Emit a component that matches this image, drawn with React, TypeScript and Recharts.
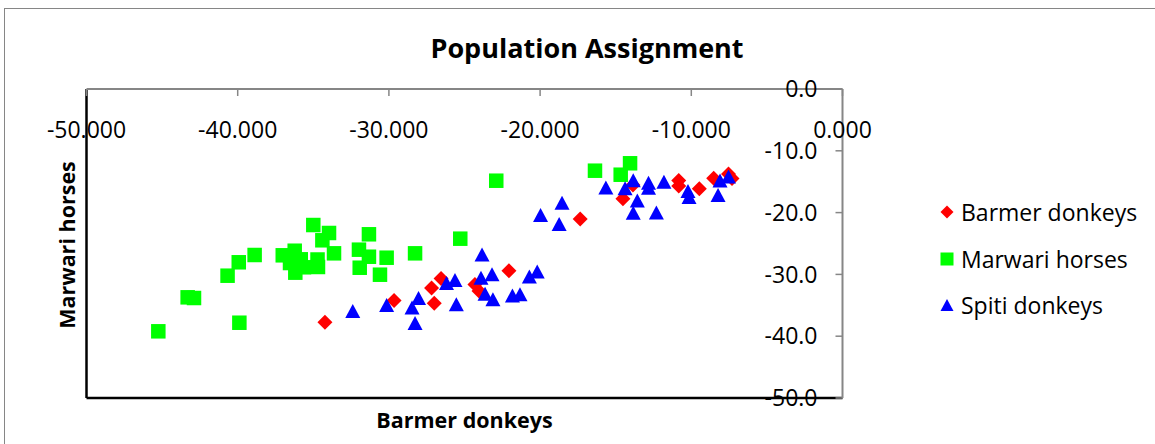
import React from "react";
import { ScatterChart, Scatter, XAxis, YAxis, ReferenceLine, Legend } from "recharts";

const barmerX = [-34.23, -29.66, -27.18, -26.55, -27.0, -24.31, -24.04, -22.06, -17.35, -14.52, -13.86, -10.83, -10.83, -9.47, -8.52, -7.54, -7.31];
const barmerY = [-37.75, -34.22, -32.2, -30.66, -34.68, -31.63, -32.69, -29.4, -21.04, -17.75, -15.53, -14.81, -15.7, -16.13, -14.45, -13.75, -14.48];

const marwariX = [-45.25, -43.31, -42.89, -40.67, -39.93, -38.88, -39.89, -37.02, -36.23, -36.19, -35.83, -35.62, -34.72, -34.69, -36.54, -35.0, -33.96, -34.4, -33.63, -31.32, -31.98, -31.32, -31.93, -30.15, -30.59, -28.27, -25.28, -22.9, -16.37, -14.67, -14.05];
const marwariY = [-39.21, -33.71, -33.82, -30.21, -28.04, -26.86, -37.82, -26.91, -26.17, -29.72, -27.56, -28.85, -27.59, -28.8, -28.16, -22.01, -23.3, -24.48, -26.59, -23.51, -26.0, -27.14, -28.92, -27.3, -30.05, -26.59, -24.22, -14.84, -13.22, -13.87, -12.02];

const spitiX = [-32.39, -30.15, -28.47, -28.04, -28.27, -26.19, -25.63, -25.54, -23.84, -23.91, -23.18, -23.64, -23.12, -21.83, -21.33, -20.71, -20.19, -19.97, -18.74, -18.55, -15.65, -14.38, -13.84, -13.57, -13.84, -12.83, -12.83, -12.31, -11.81, -10.22, -10.15, -8.23, -8.1, -7.54];
const spitiY = [-35.92, -34.95, -35.36, -33.82, -37.86, -31.39, -30.91, -34.84, -26.78, -30.53, -29.98, -33.12, -34.03, -33.41, -33.2, -30.34, -29.53, -20.39, -21.84, -18.4, -15.94, -16.07, -14.77, -18.04, -20.02, -15.16, -15.97, -19.98, -15.0, -16.5, -17.48, -17.15, -14.81, -14.16];

const xTicks = [-50, -40, -30, -20, -10, 0];
const yTicks = [-50, -40, -30, -20, -10, 0];

const seriesNames = ["Barmer donkeys", "Marwari horses", "Spiti donkeys"];
const colors = ["#FF0000", "#00FF00", "#0000FF"];

const toPoints = (xs: number[], ys: number[]) => xs.map((x, i) => ({ x, y: ys[i] }));

const FONT = "'Open Sans', 'Liberation Sans', sans-serif";

const Diamond = (props: any) => {
  const { cx, cy, fill } = props;
  const r = 7.5;
  return <polygon points={`${cx},${cy - r} ${cx + r},${cy} ${cx},${cy + r} ${cx - r},${cy}`} fill={fill} />;
};
const Square = (props: any) => {
  const { cx, cy, fill } = props;
  const s = 14.5;
  return <rect x={cx - s / 2} y={cy - s / 2} width={s} height={s} fill={fill} />;
};
const Triangle = (props: any) => {
  const { cx, cy, fill } = props;
  const w = 15, h = 14;
  return <polygon points={`${cx},${cy - h / 2} ${cx + w / 2},${cy + h / 2} ${cx - w / 2},${cy + h / 2}`} fill={fill} />;
};

const LegendIcon = ({ index, color }: { index: number; color: string }) => {
  if (index === 0)
    return (
      <svg width={14} height={14} style={{ display: "block" }}>
        <polygon points="7,0.5 13.5,7 7,13.5 0.5,7" fill={color} />
      </svg>
    );
  if (index === 1)
    return (
      <svg width={14} height={14} style={{ display: "block" }}>
        <rect x={0.5} y={0.5} width={13} height={13} fill={color} />
      </svg>
    );
  return (
    <svg width={14} height={14} style={{ display: "block" }}>
      <polygon points="7,1 13.5,13 0.5,13" fill={color} />
    </svg>
  );
};

const renderLegend = (props: any) => {
  const payload = props.payload || [];
  return (
    <div style={{ fontFamily: FONT, fontSize: 23, color: "#000" }}>
      {payload.map((p: any, i: number) => {
        const idx = seriesNames.indexOf(p.value);
        return (
          <div key={i} style={{ display: "flex", alignItems: "center", height: 46.5, whiteSpace: "nowrap" }}>
            <LegendIcon index={idx} color={colors[idx]} />
            <span style={{ marginLeft: 7 }}>{p.value}</span>
          </div>
        );
      })}
    </div>
  );
};

export default function App() {
  return (
    <div style={{ position: "absolute", left: 0, top: 0, width: 1155, height: 444, overflow: "hidden", background: "#fff" }}>
      <div style={{ position: "absolute", left: 4, top: 8, width: 1170, height: 460, border: "1px solid #868686" }} />
      <ScatterChart
        width={1155}
        height={444}
        margin={{ top: 89, left: 86.5, right: 312.5, bottom: 46 }}
        style={{ position: "absolute", left: 0, top: 0 }}
      >
        <XAxis
          type="number"
          dataKey="x"
          domain={[-50, 0]}
          ticks={xTicks}
          orientation="top"
          mirror
          interval={0}
          tickSize={7}
          tickMargin={26}
          tickFormatter={(v: number) => v.toFixed(3)}
          tick={{ fill: "#000", fontSize: 23, fontFamily: FONT }}
          axisLine={{ stroke: "#868686", strokeWidth: 2 }}
          tickLine={{ stroke: "#868686", strokeWidth: 1.5 }}
          allowDataOverflow
        />
        <YAxis
          type="number"
          dataKey="y"
          domain={[-50, 0]}
          ticks={yTicks}
          orientation="right"
          mirror
          interval={0}
          tickSize={7}
          tickMargin={18}
          tickFormatter={(v: number) => v.toFixed(1)}
          tick={{ fill: "#000", fontSize: 23, fontFamily: FONT }}
          axisLine={{ stroke: "#868686", strokeWidth: 2 }}
          tickLine={{ stroke: "#868686", strokeWidth: 1.5 }}
          allowDataOverflow
        />
        <ReferenceLine x={-50} stroke="#000" strokeWidth={2.5} />
        <ReferenceLine y={-50} stroke="#000" strokeWidth={2.5} />
        <Scatter name={seriesNames[0]} data={toPoints(barmerX, barmerY)} fill={colors[0]} shape={Diamond} isAnimationActive={false} />
        <Scatter name={seriesNames[1]} data={toPoints(marwariX, marwariY)} fill={colors[1]} shape={Square} isAnimationActive={false} />
        <Scatter name={seriesNames[2]} data={toPoints(spitiX, spitiY)} fill={colors[2]} shape={Triangle} isAnimationActive={false} />
        <Legend
          layout="vertical"
          align="center"
          verticalAlign="middle"
          content={renderLegend}
          wrapperStyle={{ left: 940, top: 189, width: 215 }}
        />
      </ScatterChart>
      <svg width={1155} height={444} style={{ position: "absolute", left: 0, top: 0, pointerEvents: "none" }}>
        <text x={587} y={58} textAnchor="middle" fontFamily={FONT} fontWeight="bold" fontSize={27} fill="#000">
          Population Assignment
        </text>
        <text x={464.5} y={428} textAnchor="middle" fontFamily={FONT} fontWeight="bold" fontSize={21.5} fill="#000">
          Barmer donkeys
        </text>
        <text
          x={0}
          y={0}
          transform="translate(75,245) rotate(-90)"
          textAnchor="middle"
          fontFamily={FONT}
          fontWeight="bold"
          fontSize={21.5}
          fill="#000"
        >
          Marwari horses
        </text>
      </svg>
    </div>
  );
}
